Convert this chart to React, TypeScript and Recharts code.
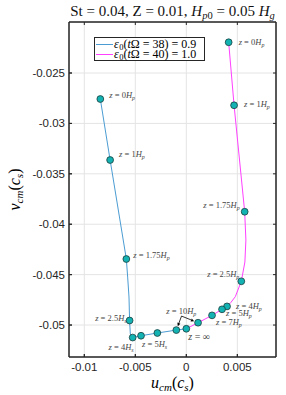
import { CartesianGrid, ComposedChart, Label, Legend, ReferenceArea, ReferenceLine, Scatter, XAxis, YAxis } from 'recharts';

const xTicks = [-0.01, -0.005, 0, 0.005];
const yTicks = [-0.05, -0.045, -0.04, -0.035, -0.03, -0.025];
const X_DOMAIN = [-0.0115, 0.00879];
const Y_DOMAIN = [-0.05317, -0.01994];

// eps0(tΩ = 38) = 0.9, trajectory from z = 0 down to z = ∞
const bluePathU = [-0.00843, -0.00747, -0.00588, -0.00575, -0.00562, -0.00556, -0.00549, -0.00526, -0.00444, -0.00284, -0.00098, 0.0];
const bluePathV = [-0.02758, -0.03363, -0.04345, -0.04524, -0.04722, -0.04955, -0.05089, -0.05124, -0.05106, -0.05079, -0.0505, -0.05037];
const blueMarkU = [-0.00843, -0.00747, -0.00588, -0.00556, -0.00526, -0.00444, -0.00284, -0.00098, 0.0];
const blueMarkV = [-0.02758, -0.03363, -0.04345, -0.04955, -0.05124, -0.05106, -0.05079, -0.0505, -0.05037];
const blueCoef = ['0', '1', '1.75', '2.5', '4', '5', '', '', '∞'];
const blueUnit = ['p', 'p', 'p', 's', 's', 's', '', '', ''];

// eps0(tΩ = 40) = 1.0
const magPathU = [0.00415, 0.00468, 0.00572, 0.00584, 0.00574, 0.00539, 0.0048, 0.00436, 0.00399, 0.0035, 0.00252, 0.00115, 0.0];
const magPathV = [-0.02195, -0.0282, -0.03876, -0.04157, -0.04375, -0.04566, -0.04719, -0.04777, -0.04815, -0.04844, -0.04904, -0.04977, -0.05037];
const magMarkU = [0.00415, 0.00468, 0.00572, 0.00539, 0.00399, 0.0035, 0.00252, 0.00115];
const magMarkV = [-0.02195, -0.0282, -0.03876, -0.04566, -0.04815, -0.04844, -0.04904, -0.04977];
const magCoef = ['0', '1', '1.75', '2.5', '4', '5', '7', '10'];
const magUnit = ['p', 'p', 'p', 'p', 'p', 'p', 'p', 'p'];

const legendT = ['38', '40'];
const legendEps = ['0.9', '1.0'];

// where the "z = 10 H_p" arrows start
const arrowFrom = { u: -0.00047, v: -0.04911 };

// label placement relative to each marker: dx, dy, anchor
const blueLabelAt: [number, number, string][] = [
  [9, -4, 'start'], [9, -6, 'start'], [7, -4, 'start'], [-3, -3, 'end'], [1, 9, 'end'],
  [1, 8, 'start'], [0, 0, 'start'], [0, 0, 'start'], [2, 8.5, 'start'],
];
const magLabelAt: [number, number, string][] = [
  [10, 0, 'start'], [10, -1, 'start'], [-5, -7, 'end'], [-2, -7, 'end'], [9, -0.5, 'start'],
  [4, 4, 'start'], [4, 7, 'start'], [-16.7, -11.7, 'middle'],
];

const BLUE = '#4b9cd3';
const MAGENTA = '#ff40ff';
const AXIS = '#262626';
const SERIF = '"Liberation Serif", "DejaVu Serif", serif';
const SANS = '"Liberation Sans", Arial, sans-serif';

const toPts = (u: number[], v: number[]) => u.map((x, i) => ({ u: x, v: v[i], i }));

function ZLabel({ x, y, coef, unit, anchor, size }: any) {
  return (
    <text x={x} y={y} fontSize={size} fontFamily={SERIF} textAnchor={anchor} fill="#444">
      <tspan fontStyle="italic">z</tspan>
      {' = '}
      {coef}
      {unit && <tspan fontStyle="italic">H</tspan>}
      {unit && (
        <tspan fontStyle="italic" fontSize={size * 0.7} dy={2}>
          {unit}
        </tspan>
      )}
    </text>
  );
}

const markerShape = (coef: string[], unit: string[], at: [number, number, string][]) => (props: any) => {
  const { cx, cy, payload } = props;
  const i = payload.i;
  const [dx, dy, anchor] = at[i];
  const big = coef[i] === '∞';
  return (
    <g>
      <circle cx={cx} cy={cy} r={3.4} fill="#13b3b3" stroke="#1d3d3d" strokeWidth={0.8} />
      {coef[i] && <ZLabel x={cx + dx} y={cy + dy + 3} coef={coef[i]} unit={unit[i]} anchor={anchor} size={big ? 10 : 8.5} />}
    </g>
  );
};

const arrowShape = (props: any) => {
  const { x1, y1, x2, y2 } = props;
  const dx = x2 - x1;
  const dy = y2 - y1;
  const len = Math.hypot(dx, dy) || 1;
  const ux = dx / len;
  const uy = dy / len;
  const ex = x2 - ux * 4.2;
  const ey = y2 - uy * 4.2;
  const hx = ex - ux * 3.2;
  const hy = ey - uy * 3.2;
  const px = -uy * 1.6;
  const py = ux * 1.6;
  return (
    <g>
      <line x1={x1} y1={y1} x2={hx} y2={hy} stroke="#000" strokeWidth={0.8} />
      <polygon points={`${ex},${ey} ${hx + px},${hy + py} ${hx - px},${hy - py}`} fill="#000" />
    </g>
  );
};

// short inward tick stubs at both ends of a full-span reference line (box ticks on top / right)
const stubShape = (props: any) => {
  const { x1, y1, x2, y2 } = props;
  const vertical = Math.abs(x2 - x1) < 0.5;
  const s = 3;
  if (vertical) {
    const top = Math.min(y1, y2);
    const bot = Math.max(y1, y2);
    return (
      <g stroke={AXIS} strokeWidth={1}>
        <line x1={x1} y1={top} x2={x1} y2={top + s} />
        <line x1={x1} y1={bot} x2={x1} y2={bot - s} />
      </g>
    );
  }
  const l = Math.min(x1, x2);
  const r = Math.max(x1, x2);
  return (
    <g stroke={AXIS} strokeWidth={1}>
      <line x1={l} y1={y1} x2={l + s} y2={y1} />
      <line x1={r} y1={y1} x2={r - s} y2={y1} />
    </g>
  );
};

const fmt = (v: number) => String(v);

function LegendBox() {
  const colors = [BLUE, MAGENTA];
  return (
    <div
      style={{
        border: `1px solid ${AXIS}`,
        background: '#fff',
        padding: '1px 8px 1px 1px',
        fontFamily: SERIF,
        fontSize: 12,
        lineHeight: '10px',
        color: '#000',
        whiteSpace: 'nowrap',
      }}
    >
      {legendT.map((t, k) => (
        <div key={t} style={{ display: 'flex', alignItems: 'center', height: 10 }}>
          <span style={{ display: 'inline-block', width: 17, borderTop: `1px solid ${colors[k]}`, marginRight: 1 }} />
          <span>
            <i style={{ marginRight: 0.5 }}>ε</i>
            <span style={{ fontSize: 8.5, position: 'relative', top: 2 }}>0</span>(<i>t</i>Ω = {t}) = {legendEps[k]}
          </span>
        </div>
      ))}
    </div>
  );
}

export default function App() {
  return (
    <div style={{ position: 'absolute', left: 0, top: 0, width: 286, height: 395, background: '#fff' }}>
      <div
        style={{
          position: 'absolute',
          left: 0,
          width: 345,
          top: 2,
          textAlign: 'center',
          fontFamily: SERIF,
          fontSize: 15,
          fontWeight: 400,
          lineHeight: '18px',
          color: '#111',
          whiteSpace: 'nowrap',
          zIndex: 2,
        }}
      >
        St = 0.04, Z = 0.01, <i>H</i>
        <span style={{ fontSize: 10.5, position: 'relative', top: 3 }}>
          <i>p</i>0
        </span>{' '}
        = 0.05 <i>H</i>
        <span style={{ fontSize: 10.5, position: 'relative', top: 3 }}>
          <i>g</i>
        </span>
      </div>
      <ComposedChart width={286} height={395} margin={{ top: 21, right: 9, bottom: 0, left: 0 }}>
        <CartesianGrid stroke="#e4e4e4" />
        <XAxis
          type="number"
          dataKey="u"
          domain={X_DOMAIN}
          ticks={xTicks}
          allowDataOverflow
          height={38}
          tickSize={-3}
          tickMargin={9}
          stroke={AXIS}
          tick={{ fontSize: 11.5, fill: AXIS, fontFamily: SANS }}
          tickFormatter={fmt}
        >
          <Label
            content={(p: any) => (
              <text x={p.viewBox.x + p.viewBox.width / 2} y={388} fontSize={16} fontFamily={SERIF} textAnchor="middle" fill="#000">
                <tspan fontStyle="italic">u</tspan>
                <tspan fontStyle="italic" fontSize={11} dy={3}>cm</tspan>
                <tspan dy={-3}>(</tspan>
                <tspan fontStyle="italic">c</tspan>
                <tspan fontStyle="italic" fontSize={11} dy={3}>s</tspan>
                <tspan dy={-3}>)</tspan>
              </text>
            )}
          />
        </XAxis>
        <XAxis
          xAxisId="top"
          orientation="top"
          type="number"
          dataKey="u"
          domain={X_DOMAIN}
          ticks={xTicks}
          allowDataOverflow
          height={1}
          tickSize={-3}
          tick={false}
          stroke={AXIS}
        />
        <YAxis
          type="number"
          dataKey="v"
          domain={Y_DOMAIN}
          ticks={yTicks}
          allowDataOverflow
          width={69}
          tickSize={-3}
          tickMargin={7}
          stroke={AXIS}
          tick={{ fontSize: 11.5, fill: AXIS, fontFamily: SANS }}
          tickFormatter={fmt}
        >
          <Label
            content={(p: any) => {
              const cy = p.viewBox.y + p.viewBox.height / 2;
              return (
                <text x={20} y={cy} transform={`rotate(-90, 20, ${cy})`} fontSize={16} fontFamily={SERIF} textAnchor="middle" fill="#000">
                  <tspan fontStyle="italic">v</tspan>
                  <tspan fontStyle="italic" fontSize={11} dy={3}>cm</tspan>
                  <tspan dy={-3}>(</tspan>
                  <tspan fontStyle="italic">c</tspan>
                  <tspan fontStyle="italic" fontSize={11} dy={3}>s</tspan>
                  <tspan dy={-3}>)</tspan>
                </text>
              );
            }}
          />
        </YAxis>
        <YAxis
          yAxisId="right"
          orientation="right"
          type="number"
          dataKey="v"
          domain={Y_DOMAIN}
          ticks={yTicks}
          allowDataOverflow
          width={1}
          tickSize={-3}
          tick={false}
          stroke={AXIS}
        />
        <Legend
          layout="vertical"
          align="center"
          verticalAlign="middle"
          content={() => <LegendBox />}
          wrapperStyle={{ left: 94, top: 37, width: 'auto', height: 'auto' }}
        />
        <ReferenceArea
          x1={X_DOMAIN[0]}
          x2={X_DOMAIN[1]}
          y1={Y_DOMAIN[0]}
          y2={Y_DOMAIN[1]}
          ifOverflow="visible"
          fill="none"
          fillOpacity={0}
          stroke={AXIS}
          strokeWidth={1}
        />
        {xTicks.map((t) => (
          <ReferenceLine key={`xt${t}`} x={t} ifOverflow="visible" shape={stubShape} />
        ))}
        {yTicks.map((t) => (
          <ReferenceLine key={`yt${t}`} y={t} ifOverflow="visible" shape={stubShape} />
        ))}
        <Scatter
          data={toPts(bluePathU, bluePathV)}
          dataKey="v"
          fill={BLUE}
          line={{ stroke: BLUE, strokeWidth: 1 }}
          lineType="joint"
          shape={() => <g />}
          isAnimationActive={false}
        />
        <Scatter
          data={toPts(magPathU, magPathV)}
          dataKey="v"
          fill={MAGENTA}
          line={{ stroke: MAGENTA, strokeWidth: 1 }}
          lineType="joint"
          shape={() => <g />}
          isAnimationActive={false}
        />
        <Scatter
          data={toPts(blueMarkU, blueMarkV)}
          dataKey="v"
          shape={markerShape(blueCoef, blueUnit, blueLabelAt)}
          isAnimationActive={false}
        />
        <Scatter
          data={toPts(magMarkU, magMarkV)}
          dataKey="v"
          shape={markerShape(magCoef, magUnit, magLabelAt)}
          isAnimationActive={false}
        />
        <ReferenceLine
          xAxisId="top"
          yAxisId="right"
          segment={[{ x: arrowFrom.u, y: arrowFrom.v }, { x: blueMarkU[7], y: blueMarkV[7] }]}
          ifOverflow="visible"
          shape={arrowShape}
        />
        <ReferenceLine
          xAxisId="top"
          yAxisId="right"
          segment={[{ x: arrowFrom.u, y: arrowFrom.v }, { x: magMarkU[7], y: magMarkV[7] }]}
          ifOverflow="visible"
          shape={arrowShape}
        />
      </ComposedChart>
    </div>
  );
}
